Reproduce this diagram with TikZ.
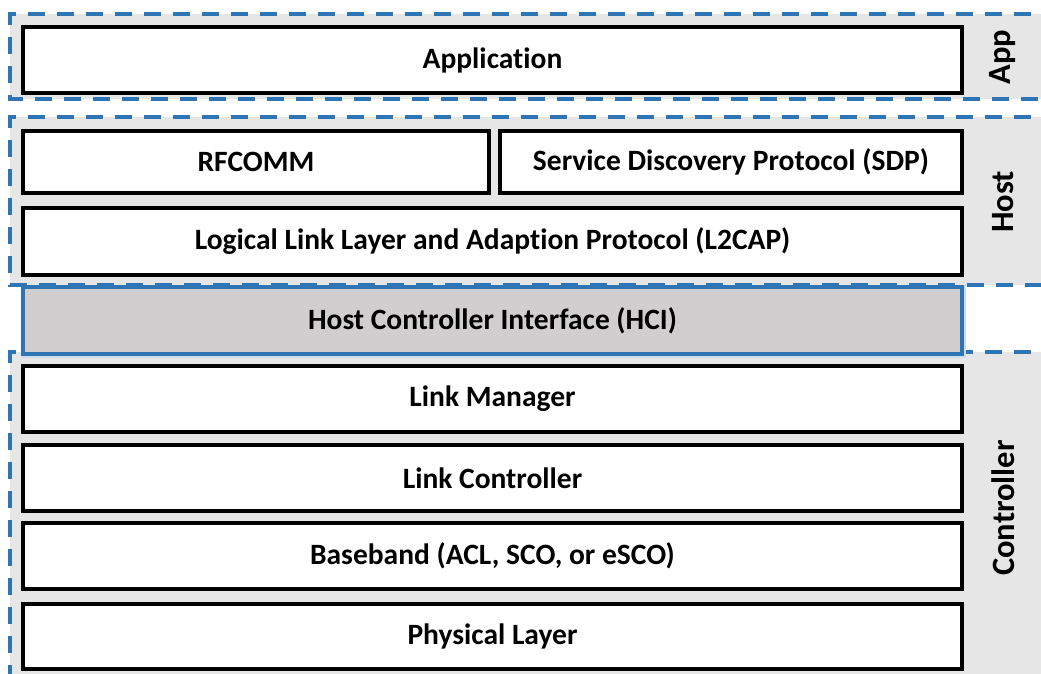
\documentclass[tikz,border=0pt]{standalone}
\usepackage{fontspec}
\setmainfont[RawFeature=-liga]{Carlito}
\definecolor{zonegrey}{HTML}{E7E6E6}
\definecolor{zoneblue}{HTML}{2E75B6}
\definecolor{hcigrey}{HTML}{D0CECE}
\begin{document}
\begin{tikzpicture}[x=1pt,y=-1pt,
  txt/.style={font=\fontsize{29.5}{34}\selectfont\bfseries},
  layer/.style={txt, draw=black, line width=4pt, fill=white, inner sep=0pt, anchor=north west},
  zone/.style={draw=zoneblue, line width=4pt, dash pattern=on 17pt off 12pt},
  zonelabel/.style={font=\fontsize{32.5}{36}\selectfont\bfseries, rotate=90, anchor=center}]
\useasboundingbox (0,0) rectangle (1041,674);
\clip (0,0) rectangle (1041,674);

% grey zones, open to the right
\fill[zonegrey] (10,14.5) rectangle (1060,99.5);
\fill[zonegrey] (10,117) rectangle (1060,285);
\fill[zonegrey] (10,352) rectangle (1060,690);
\draw[zone] (1060,14.5) -| (10,99.5) -- (1060,99.5);
\draw[zone] (1060,117) -| (10,285) -- (1060,285);
\draw[zone] (1060,352) -| (10,690);

% protocol layers
\node[layer, minimum width=939pt, minimum height=66pt] (app) at (21,25) {Application};
\node[layer, minimum width=466pt, minimum height=62pt] (rfcomm) at (21,129) {RFCOMM};
\node[layer, minimum width=462pt, minimum height=62pt] (sdp) at (498,129) {Service Discovery Protocol (SDP)};
\node[layer, minimum width=939pt, minimum height=67pt] (l2cap) at (21,206) {Logical Link Layer and Adaption Protocol (L2CAP)};
\node[layer, draw=zoneblue!25, line width=5.5pt, fill=none, minimum width=939pt, minimum height=67pt] (hciglow) at (21,285) {};
\node[layer, draw=zoneblue, fill=hcigrey, minimum width=939pt, minimum height=67pt] (hci) at (21,285) {Host Controller Interface (HCI)};
\node[layer, minimum width=939pt, minimum height=66pt] (lm) at (21,364) {Link Manager};
\node[layer, minimum width=939pt, minimum height=66pt] (lc) at (21,443) {Link Controller};
\node[layer, minimum width=939pt, minimum height=66pt] (bb) at (21,521) {Baseband (ACL, SCO, or eSCO)};
\node[layer, minimum width=939pt, minimum height=65pt] (phy) at (21,602) {Physical Layer};

% zone captions
\node[zonelabel] (lblapp) at (1003,57) {App};
\node[zonelabel] (lblhost) at (1003,202) {Host};
\node[zonelabel] (lblctrl) at (1003,508) {Controller};
\end{tikzpicture}
\end{document}
